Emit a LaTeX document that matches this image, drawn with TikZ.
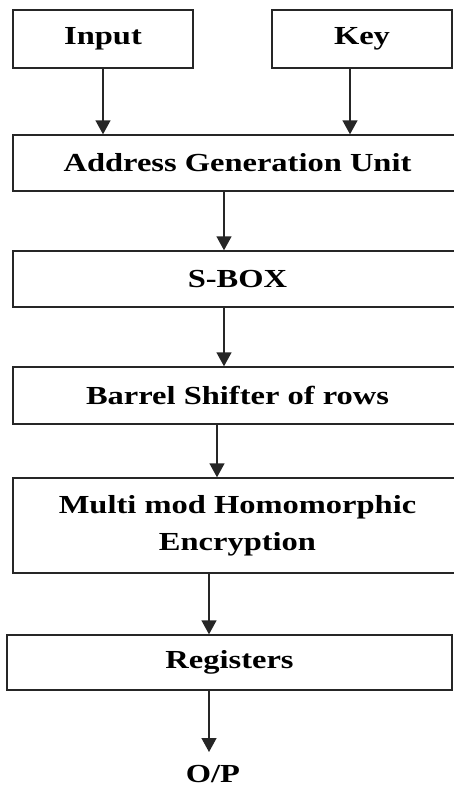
\documentclass[tikz,border=0pt]{standalone}
\usepackage{fontspec}
\setmainfont[FakeStretch=1.25]{Liberation Serif}
\usetikzlibrary{arrows.meta}
\begin{document}
\begin{tikzpicture}[x=1pt,y=1pt,
  box/.style={draw=black!85, line width=1.4pt, rectangle, inner sep=0pt, align=center,
    font=\fontsize{26}{37}\selectfont\bfseries},
  arr/.style={draw=black!85, line width=1.4pt, -{Triangle[length=14pt,width=15pt]}},
  lbl/.style={inner sep=0pt, font=\fontsize{26}{37}\selectfont\bfseries}]
\useasboundingbox (0,0) rectangle (454,-787);
\node[box, minimum width=180, minimum height=58] (input) at (103,-39) {Input};
\node[box, minimum width=180, minimum height=58] (key) at (362,-39) {Key};
\node[box, minimum width=449, minimum height=56] (agu) at (237.5,-163) {Address Generation Unit};
\node[box, minimum width=449, minimum height=56] (sbox) at (237.5,-279) {S-BOX};
\node[box, minimum width=449, minimum height=57] (barrel) at (237.5,-395.5) {Barrel Shifter of rows};
\node[box, minimum width=449, minimum height=95] (multi) at (237.5,-525.5) {Multi mod Homomorphic\\Encryption};
\node[box, minimum width=445, minimum height=55] (reg) at (229.5,-662.5) {Registers};
\node[lbl, anchor=north] (op) at (213,-765) {O/P};
\coordinate (c1) at (224,0);
\coordinate (c2) at (217,0);
\coordinate (c3) at (209,0);
\coordinate (opin) at (209,-752);
\draw[arr] (input.south) -- (input.south |- agu.north);
\draw[arr] ([xshift=-12pt]key.south) -- ([xshift=-12pt]key.south |- agu.north);
\draw[arr] (agu.south -| c1) -- (sbox.north -| c1);
\draw[arr] (sbox.south -| c1) -- (barrel.north -| c1);
\draw[arr] (barrel.south -| c2) -- (multi.north -| c2);
\draw[arr] (multi.south -| c3) -- (reg.north -| c3);
\draw[arr] (reg.south -| c3) -- (opin);
\end{tikzpicture}
\end{document}
